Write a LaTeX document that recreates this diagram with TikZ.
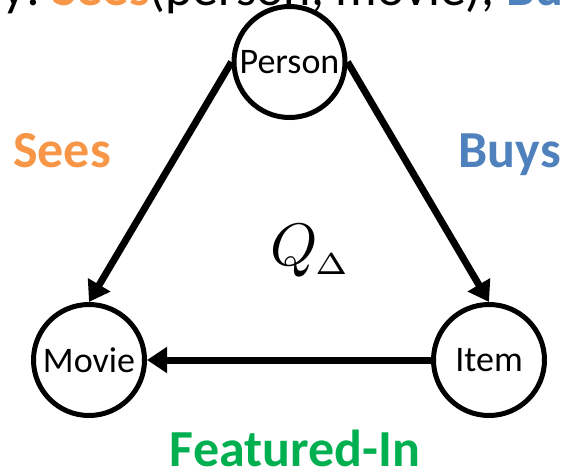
\documentclass[tikz,border=0pt]{standalone}
\usepackage{graphicx}
\usepackage{fontspec}
\setmainfont{Carlito}
\usetikzlibrary{arrows.meta}
\definecolor{seesorange}{RGB}{247,150,70}
\definecolor{buysblue}{RGB}{79,129,189}
\definecolor{featgreen}{RGB}{0,176,80}
\tikzset{
  entity/.style={circle, draw, line width=5pt, minimum size=111pt, inner sep=0pt,
    font=\fontsize{36}{36}\selectfont},
  relation/.style={line width=7pt, -{Triangle[length=20pt,width=25pt]}},
  rellabel/.style={font=\fontsize{52}{52}\selectfont\bfseries, inner sep=0pt},
}
\begin{document}
\begin{tikzpicture}[x=1pt,y=-1pt]
  \useasboundingbox (0,0) rectangle (567,466);
  \clip (0,0) rectangle (567,466);
  % query line running along the top edge
  \node[anchor=base west, inner sep=0pt, font=\fontsize{52}{52}\selectfont] (query) at (52,5)
    {\textcolor{seesorange}{\bfseries Sees}(person, movie), \textcolor{buysblue}{\bfseries Buys}(person, item)};
  \node[anchor=base east, inner sep=0pt, font=\fontsize{52}{52}\selectfont] (qlead) at (query.base west) {Query:\ \ };
  % entities
  \node[entity] (person) at (289.5,62) {Person};
  \node[entity] (movie) at (89,360) {Movie};
  \node[entity] (item) at (489,360) {Item};
  % relations
  \draw[relation] (person.west) -- (movie.north);
  \draw[relation] (person.east) -- (item.north);
  \draw[relation] (item.west) -- (movie.east);
  % labels
  \node[rellabel, text=seesorange, anchor=base west] (sees) at (13,167) {Sees};
  \node[rellabel, text=buysblue, anchor=base east] (buys) at (561,167) {Buys};
  \node[rellabel, text=featgreen, anchor=base] (feat) at (295,466) {Featured-In};
  \node[anchor=base west, inner sep=0pt] (q) at (270,265)
    {\scalebox{6}{$Q_{\mkern-1mu\scriptscriptstyle\Delta}$}};
\end{tikzpicture}
\end{document}
